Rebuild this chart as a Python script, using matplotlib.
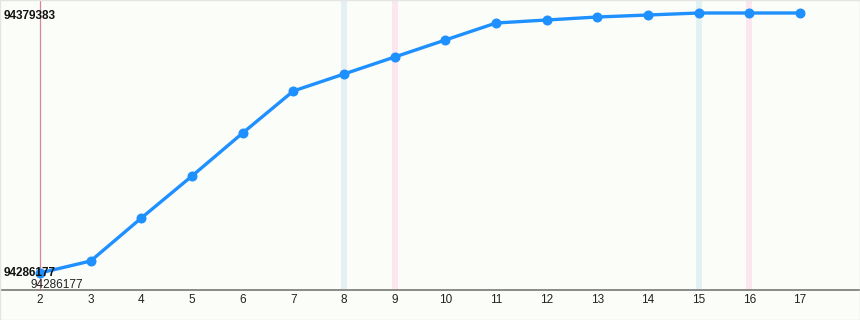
import matplotlib
matplotlib.use("Agg")
import matplotlib.pyplot as plt

plt.rcParams["font.family"] = ["Liberation Sans", "DejaVu Sans"]

x_vals = [2, 3, 4, 5, 6, 7, 8, 9, 10, 11, 12, 13, 14, 15, 16, 17]
y_vals = [94286177, 94290479, 94305893, 94320950, 94336364, 94351420, 94357514,
          94363609, 94369703, 94375797, 94376873, 94377948, 94378665,
          94379383, 94379383, 94379383]
y_max_label = "94379383"
y_min_label = "94286177"
blue_bands = [8, 15]
pink_bands = [9, 16]
red_line_x = 2

bg = "#fbfdf9"
fig = plt.figure(figsize=(8.6, 3.2), dpi=100, facecolor=bg)
ax = fig.add_axes([0, 30/320, 1, 290/320], facecolor=bg)

ppx = 50.67
ax.set_xlim(2 - 40/ppx, 2 + 820/ppx)
ypp = (94379383 - 94286177) / 260
ax.set_ylim(94286177 - 17*ypp, 94379383 + 13*ypp)

hw = 3.0 / ppx
band_colors_blue = ["#e4f0f4", "#e2f1f1"]
for b, c in zip(blue_bands, band_colors_blue):
    ax.axvspan(b - hw, b + hw, color=c, lw=0, zorder=1)
for b in pink_bands:
    ax.axvspan(b - hw, b + hw, color="#fce6f0", lw=0, zorder=1)
ax.axvline(red_line_x, color="#d6879a", lw=0.9, zorder=2)

ax.plot(x_vals, y_vals, color="#1e90ff", lw=2.4, marker="o", ms=6.2,
        solid_capstyle="round", zorder=3)

for s in ["top", "right", "left"]:
    ax.spines[s].set_visible(False)
ax.spines["bottom"].set_color("#777777")
ax.spines["bottom"].set_linewidth(1.2)
ax.set_yticks([])
ax.set_xticks(x_vals)
ax.set_xticklabels([str(v) for v in x_vals], fontsize=8.5, color="#222222")
ax.tick_params(axis="x", length=0, pad=3)

fig.text(4/860, 1 - 16/320, y_max_label, fontsize=8.5, fontweight="bold",
         ha="left", va="center", color="#111111")
fig.text(4/860, 1 - 273/320, y_min_label, fontsize=8.5, fontweight="bold",
         ha="left", va="center", color="#111111")
fig.text(57/860, 1 - 285.5/320, y_min_label, fontsize=8.5,
         ha="center", va="center", color="#222222")

border = plt.Rectangle((0, 0), 1, 1, transform=fig.transFigure, fill=False,
                       edgecolor="#e4e4e4", lw=1.0)
fig.patches.append(border)

fig.savefig("out.png", dpi=100, facecolor=bg)
